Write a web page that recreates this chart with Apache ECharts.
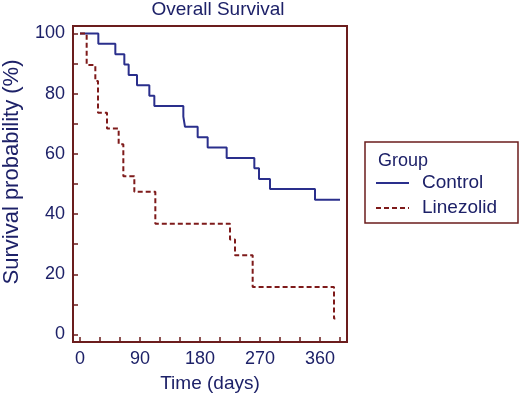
<!DOCTYPE html>
<html>
<head>
<meta charset="utf-8">
<script src="https://cdn.jsdelivr.net/npm/echarts@6/dist/echarts.min.js"></script>
<style>
  html, body { margin: 0; padding: 0; background: #fff; }
  #chart-panel { width: 520px; height: 396px; }
</style>
</head>
<body>
<div id="chart-panel"></div>
<script>
// Kaplan-Meier steps (time in days, survival in %)
var controlTimes = [0, 27.5, 53, 66.5, 73, 85.5, 104, 111.5, 155, 157.5, 176.5, 191.5, 220, 261.5, 268.5, 285, 352.5, 390];
var controlSurv = [100, 96.6, 93.1, 89.7, 86.2, 82.8, 79.3, 75.9, 72.4, 69.0, 65.5, 62.1, 58.6, 55.2, 51.7, 48.3, 44.8, 44.8];
var linezolidTimes = [0, 10, 23, 27, 40.5, 58, 65, 81.5, 113, 225, 232.5, 259, 381, 383];
var linezolidSurv = [100, 89.5, 84.2, 73.7, 68.4, 63.2, 52.6, 47.4, 36.8, 31.6, 26.3, 15.8, 5.3, 5.3];

var xTicks = [0, 30, 60, 90, 120, 150, 180, 210, 240, 270, 300, 330, 360, 390];
var xLabels = [0, 90, 180, 270, 360];
var yTicks = [0, 10, 20, 30, 40, 50, 60, 70, 80, 90, 100];
var yLabels = [0, 20, 40, 60, 80, 100];

var navy = '#1d2168';
var maroon = '#6b1d1d';
var font = 'Liberation Sans, Arial, sans-serif';

function pairs(xs, ys) {
    return xs.map(function (x, i) { return [x, ys[i]]; });
}

var option = {
    animation: false,
    title: [{
        text: 'Overall Survival',
        left: 213,
        top: -5,
        textAlign: 'center',
        textStyle: { color: navy, fontSize: 19, fontWeight: 'normal', fontFamily: font }
    }, {
        text: 'Group',
        left: 373,
        top: 147,
        textStyle: { color: navy, fontSize: 18, fontWeight: 'normal', fontFamily: font }
    }],
    grid: {
        left: 73, right: 173, top: 26, bottom: 54,
        containLabel: false,
        outerBoundsMode: 'none',
        show: true,
        borderColor: maroon,
        borderWidth: 2
    },
    legend: {
        orient: 'vertical',
        left: 365,
        top: 142,
        padding: [30, 21, 4, 10],
        borderColor: maroon,
        borderWidth: 1.5,
        itemWidth: 33,
        itemHeight: 14,
        itemGap: 3,
        itemStyle: { opacity: 0 },
        textStyle: { color: navy, fontSize: 19, lineHeight: 22, fontFamily: font, padding: [0, 0, 0, 8] },
        data: ['Control', 'Linezolid']
    },
    xAxis: {
        type: 'value',
        min: -10.5,
        max: 400.5,
        name: 'Time (days)',
        nameLocation: 'middle',
        nameGap: 32,
        nameTextStyle: { color: navy, fontSize: 19, fontFamily: font },
        axisLine: { onZero: false, lineStyle: { color: maroon, width: 2 } },
        axisTick: { inside: true, length: 5, customValues: xTicks, lineStyle: { color: maroon, width: 1.5 } },
        axisLabel: { customValues: xLabels, color: navy, fontSize: 18, margin: 8, fontFamily: font },
        splitLine: { show: false }
    },
    yAxis: {
        type: 'value',
        min: -2.5,
        max: 102.5,
        name: 'Survival probability (%)',
        nameLocation: 'middle',
        nameGap: 50,
        nameTextStyle: { color: navy, fontSize: 22, fontFamily: font, padding: [0, 0, 0, 24] },
        axisLine: { onZero: false, lineStyle: { color: maroon, width: 2 } },
        axisTick: { inside: true, length: 5, customValues: yTicks, lineStyle: { color: maroon, width: 1.5 } },
        axisLabel: { customValues: yLabels, color: navy, fontSize: 18, margin: 8, fontFamily: font },
        splitLine: { show: false }
    },
    series: [{
        name: 'Control',
        type: 'line',
        step: 'end',
        symbol: 'none',
        color: '#2a2f8c',
        lineStyle: { color: '#2a2f8c', width: 2 },
        data: pairs(controlTimes, controlSurv)
    }, {
        name: 'Linezolid',
        type: 'line',
        step: 'end',
        symbol: 'none',
        color: '#7e1a1a',
        lineStyle: { color: '#7e1a1a', width: 2, type: [5, 3] },
        data: pairs(linezolidTimes, linezolidSurv)
    }]
};

var chart = echarts.init(document.getElementById('chart-panel'));
chart.setOption(option);
</script>
</body>
</html>
